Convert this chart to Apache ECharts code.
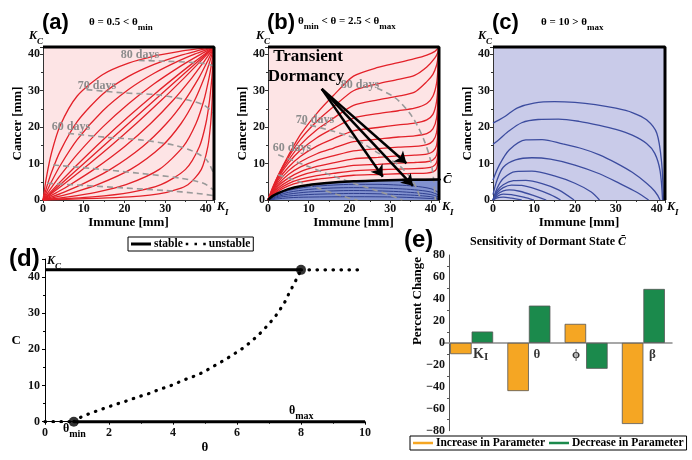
<!DOCTYPE html>
<html><head><meta charset="utf-8">
<script src="https://cdn.jsdelivr.net/npm/echarts/dist/echarts.min.js"></script>
<style>html,body{margin:0;padding:0;background:#fff}#c{width:692px;height:460px}</style>
</head><body><div id="c"></div>
<script>
// ---------------- DATA ----------------
const K_I = 42, K_C = 42;
// (a) theta = 0.5 : trajectories (Immune, Cancer)
const aCurves = [
 [[0,0],[0.84,6.21],[2.1,12.98],[4.2,20.4],[8.4,28.56],[14.7,34.47],[21,37.58],[27.3,39.5],[33.6,40.8],[37.8,41.46],[39.9,41.74],[41.16,41.9],[42,42]],
 [[0,0],[0.84,3.32],[2.1,7.6],[4.2,13.36],[8.4,21.51],[14.7,29.12],[21,33.92],[27.3,37.23],[33.6,39.64],[37.8,40.92],[39.9,41.48],[41.16,41.8],[42,42]],
 [[0,0],[0.84,2.12],[2.1,5.06],[4.2,9.41],[8.4,16.55],[14.7,24.5],[21,30.33],[27.3,34.79],[33.6,38.32],[37.8,40.28],[39.9,41.17],[41.16,41.67],[42,42]],
 [[0,0],[0.84,1.41],[2.1,3.45],[4.2,6.67],[8.4,12.53],[14.7,20.07],[21,26.44],[27.3,31.9],[33.6,36.62],[37.8,39.42],[39.9,40.74],[41.16,41.5],[42,42]],
 [[0,0],[0.84,1.0],[2.1,2.5],[4.2,4.94],[8.4,9.69],[14.7,16.49],[21,22.91],[27.3,28.99],[33.6,34.76],[37.8,38.44],[39.9,40.24],[41.16,41.3],[42,42]],
 [[0,0],[21,21],[42,42]],
 [[0,0],[1.0,0.84],[2.5,2.1],[4.94,4.2],[9.69,8.4],[16.49,14.7],[22.91,21],[28.99,27.3],[34.76,33.6],[38.44,37.8],[40.24,39.9],[41.3,41.16],[42,42]],
 [[0,0],[1.41,0.84],[3.45,2.1],[6.67,4.2],[12.53,8.4],[20.07,14.7],[26.44,21],[31.9,27.3],[36.62,33.6],[39.42,37.8],[40.74,39.9],[41.5,41.16],[42,42]],
 [[0,0],[2.12,0.84],[5.06,2.1],[9.41,4.2],[16.55,8.4],[24.5,14.7],[30.33,21],[34.79,27.3],[38.32,33.6],[40.28,37.8],[41.17,39.9],[41.67,41.16],[42,42]],
 [[0,0],[3.32,0.84],[7.6,2.1],[13.36,4.2],[21.51,8.4],[29.12,14.7],[33.92,21],[37.23,27.3],[39.64,33.6],[40.92,37.8],[41.48,39.9],[41.8,41.16],[42,42]],
 [[0,0],[6.21,0.84],[12.98,2.1],[20.4,4.2],[28.56,8.4],[34.47,14.7],[37.58,21],[39.5,27.3],[40.8,33.6],[41.46,37.8],[41.74,39.9],[41.9,41.16],[42,42]],
 [[0,0],[12.17,0.84],[21.54,2.1],[28.97,4.2],[35,8.4],[38.43,14.7],[40,21],[40.9,27.3],[41.48,33.6],[41.77,37.8],[41.89,39.9],[41.96,41.16],[42,42]],
 [[0,0],[21.2,0.84],[30.43,2.1],[35.59,4.2],[38.89,8.4],[40.5,14.7],[41.18,21],[41.55,27.3],[41.79,33.6],[41.91,37.8],[41.96,39.9],[41.98,41.16],[42,42]]
];
const aIsochrones = [
 [[23.5,38.3],[30,38.1],[36,37.8],[40,37.4],[42,36.8]],
 [[10.7,30.3],[19.8,29.4],[28,28.9],[35.3,27.5],[39.4,26.1],[41.9,23.9]],
 [[6.2,18.3],[15.7,17.2],[23.9,16.5],[32,15.1],[37,13.3],[40.2,11],[41.9,7.3]],
 [[2.5,9.6],[11.6,8.7],[23.9,7.3],[33.7,6],[39.4,4.6],[41.9,2.75]],
 [[1,4.6],[10,4],[20,3.3],[30,2.6],[38,1.8],[42,1.2]]
];
// (b) theta = 2.5
const bRed = [
 [[0,0],[1,3.1],[2.5,6.8],[5,12.2],[8,18],[12,23.8],[16,28.6],[21,34],[27,36.4],[32,37.7],[36,38.8],[39,39.8],[41,40.8],[42,42]],
 [[0,0],[2.5,6.7],[5,11.7],[8,16.7],[12,21.6],[16,25.5],[21,30],[27,31.9],[32,33.1],[36,34.2],[39,36.5],[41,39],[41.7,40.5],[42,42]],
 [[0,0],[2.5,6.4],[5,10.9],[8,15.2],[12,19.3],[16,22.4],[21,26],[27,27.5],[32,28.5],[36,29.6],[39,32.5],[40.5,34.5],[41.4,37],[41.8,39.5],[42,42]],
 [[0,0],[2.5,6.0],[5,10.1],[8,13.7],[12,17.1],[16,19.6],[21,22.5],[27,23.7],[32,24.5],[36,25.2],[39,26.5],[40.5,28.5],[41.4,32],[41.8,37],[42,42]],
 [[0,0],[2.5,5.5],[5,9.0],[8,12.0],[12,14.8],[16,16.8],[21,19],[27,19.9],[32,20.6],[36,21.1],[39,22],[40.5,23.5],[41.4,27],[41.8,33],[42,42]],
 [[0,0],[2.5,4.9],[5,8.0],[8,10.5],[12,12.7],[16,14.2],[21,16],[27,16.7],[32,17.3],[36,17.6],[39,18.2],[40.5,19.5],[41.4,22.5],[41.8,29],[42,42]],
 [[0,0],[2.5,4.3],[5,7.0],[8,9.1],[12,10.9],[16,12.1],[21,13.5],[27,14.1],[32,14.5],[36,14.7],[39,15.2],[40.5,16.2],[41.4,18.5],[41.8,25],[42,42]],
 [[0,0],[2.5,3.8],[5,6.0],[8,7.8],[12,9.2],[16,10.2],[21,11.3],[27,11.7],[32,12.1],[36,12.3],[39,12.6],[40.5,13.3],[41.4,15],[41.8,21],[42,42]],
 [[0,0],[2.5,3.3],[5,5.2],[8,6.7],[12,7.9],[16,8.6],[21,9.5],[27,9.8],[32,10.1],[36,10.3],[39,10.5],[40.5,11],[41.4,12.3],[41.8,17],[42,42]],
 [[0,0],[2.5,2.8],[5,4.5],[8,5.7],[12,6.7],[16,7.3],[21,8],[27,8.3],[32,8.5],[36,8.6],[39,8.8],[40.5,9.2],[41.4,10.3],[41.8,14],[42,42]],
 [[0,0],[2.5,2.4],[5,3.9],[8,4.9],[12,5.7],[16,6.2],[21,6.8],[27,7.0],[32,7.2],[36,7.3],[39,7.4],[40.5,7.7],[41.4,8.6],[41.8,12],[42,42]]
];
const bSeparatrix = [[0,0],[1,1.0],[2.5,1.9],[5,3.0],[8,3.8],[12,4.4],[16,4.8],[21,5.15],[27,5.35],[32,5.5],[36,5.55],[42,5.6]];
const bBlue = [
 [[0,0],[2.5,1.6],[5,2.6],[10,3.6],[16,4.1],[21,4.3],[27,4.3],[32,4.1],[36,3.8],[40,3.1],[42,2.0]],
 [[0,0],[2.5,1.3],[5,2.1],[10,2.9],[16,3.3],[21,3.4],[27,3.3],[32,3.1],[36,2.8],[40,2.2],[42,1.3]],
 [[0,0],[2.5,1.0],[5,1.6],[10,2.2],[16,2.5],[21,2.6],[27,2.5],[32,2.3],[36,2.0],[40,1.5],[42,0.8]],
 [[0,0],[2.5,0.7],[5,1.1],[10,1.5],[16,1.7],[21,1.8],[27,1.7],[32,1.5],[36,1.3],[40,0.9],[42,0.4]],
 [[0,0],[5,0.6],[10,0.8],[21,0.9],[32,0.8],[40,0.4],[42,0.2]]
];
const bIsochrones = [
 [[26.8,30.7],[31.3,28],[35.4,22.9],[38.3,16.5],[39.9,11],[40.7,5.5],[41.1,0]],
 [[8,21.2],[15,19.2],[21,17.0],[27.2,12.8],[32.1,9.6],[35.4,5.5],[37,1.8],[37.5,0]],
 [[2.5,12.4],[9.9,9.2],[15,7],[21,4.6],[26,2.8],[30,1.3],[33,0]],
 [[2.5,6.9],[8,4.9],[12.4,3.2],[17,1.5],[20,0.5],[22,0]]
];
const bCbar = 5.6;
const bCbarSpan = [33, 43.5];
const bArrowStart = [13.2, 30.5];
const bArrowEnds = [[28.2,6.4],[35.6,3.9],[34,10.1]];
// (c) theta = 10
const cCurves = [
 [[0,21.1],[1.5,22],[3,23],[6,25.3],[10,26.6],[15,27],[20,26.8],[25,26.2],[30,25.2],[34,24],[37.5,22],[40,18.3],[41.2,10],[41.6,0]],
 [[0,15.3],[1.5,16.6],[3.5,18.6],[7,21.2],[11,22.1],[16,22.2],[21,21.6],[26,20.5],[30,19.4],[34,17.8],[37.5,15.5],[39.5,12.8],[40.8,8],[41.4,0]],
 [[0,5.5],[1.5,9.5],[4,13.8],[8,16.5],[12,16.6],[17,15.4],[22,14],[26,12.4],[30,10.2],[34,7.6],[37.5,4.6],[39.5,2.4],[40.8,0]],
 [[0,1.5],[1,5.5],[2.5,9],[5.5,11],[9.5,11.6],[14,11.2],[20,9.6],[26,7.2],[31,4.5],[35,2.2],[38,0]],
 [[0,0],[1,3.2],[2.5,5.9],[5.5,7.8],[9.5,7.9],[15,6.6],[20,4.6],[24,2.2],[26,0]],
 [[0,0],[1,2.5],[2.5,4.2],[5,5.3],[8,5.4],[12,4.5],[16,2.8],[19.8,0]],
 [[0,0],[1,2],[2.5,3.4],[4.5,4.1],[7,4],[10.5,3],[14,1.5],[16.5,0]],
 [[0,0],[1,1.5],[2.5,2.5],[4,2.8],[6.5,2.4],[10,1.2],[13,0]],
 [[0,0],[1,1],[2.5,1.6],[4.5,1.5],[7.5,0.8],[10,0]],
 [[0,0],[1,0.6],[2.5,0.8],[4.5,0.5],[7,0]]
];
// (d) bifurcation
const dThetaMin = 0.9, dThetaMax = 8, dThetaEnd = 10;
const dUnstable = [[0.9,0],[1.15,1.4],[1.41,2.3],[1.69,3.2],[1.95,4.0],[2.21,4.8],[2.47,5.5],[2.73,6.3],[2.99,7.1],[3.25,7.8],[3.51,8.7],[3.77,9.5],[4.03,10.3],[4.29,11.4],[4.55,12.2],[4.81,13.1],[5.05,14.2],[5.28,15.4],[5.52,16.6],[5.76,17.9],[5.99,19.2],[6.23,20.6],[6.43,22.1],[6.64,23.7],[6.84,25.5],[7.01,27.2],[7.19,29.0],[7.35,31.1],[7.5,33.2],[7.62,35.4],[7.75,37.6],[7.88,39.8],[8,42]];
// (e) sensitivity
const eCategories = ['K_I','θ','ϕ','β'];
const eIncrease = [-10.3, -43.9, 17.3, -73.9];
const eDecrease = [10.3, 33.9, -23.6, 49.1];

// ---------------- STYLE ----------------
const SERIF = 'Liberation Serif', SANS = 'Liberation Sans';
const RED = '#e32129', GREYD = '#9a9a9a', NAVY = '#2f3f8e', CBLUE = '#3c4c9f';
const chart = echarts.init(document.getElementById('c'), null, {renderer:'canvas'});

const lbl = (extra) => Object.assign({fontFamily:SERIF, fontWeight:'bold', fontSize:12, color:'#111'}, extra||{});
function phaseX(i){ return {type:'value', gridIndex:i, min:0, max:K_I, interval:10,
  axisLine:{show:true, onZero:false, lineStyle:{color:'#333', width:1}}, axisTick:{show:true, length:3, lineStyle:{color:'#333'}},
  minorTick:{show:true, splitNumber:2, length:2, lineStyle:{color:'#333'}}, splitLine:{show:false},
  axisLabel:lbl({margin:3, showMaxLabel:false}),
  name:'Immune [mm]', nameLocation:'middle', nameGap:13, nameTextStyle:lbl({fontSize:13, color:'#000'})}; }
function phaseY(i){ return {type:'value', gridIndex:i, min:0, max:K_C, interval:10,
  axisLine:{show:true, onZero:false, lineStyle:{color:'#333', width:1}}, axisTick:{show:true, length:3, lineStyle:{color:'#333'}},
  minorTick:{show:true, splitNumber:2, length:2, lineStyle:{color:'#333'}}, splitLine:{show:false},
  axisLabel:lbl({margin:3, showMaxLabel:false}),
  name:'Cancer [mm]', nameLocation:'middle', nameGap:17, nameTextStyle:lbl({fontSize:13, color:'#000'})}; }

const series = [];
function line(gi, data, ls, extra){ series.push(Object.assign({type:'line', xAxisIndex:gi, yAxisIndex:gi, data:data, symbol:'none', silent:true, lineStyle:ls}, extra||{})); }
const frame = [[0,K_C],[K_I,K_C],[K_I,0]];

// (a)
aCurves.forEach(c => line(0, c, {color:RED, width:1.3}, {smooth:0.25, z:3}));
aIsochrones.forEach(c => line(0, c, {color:GREYD, width:1.6, type:[6,4]}, {smooth:0.3, z:4}));
line(0, frame, {color:'#000', width:3}, {z:6, clip:false});
// (b)
line(1, bSeparatrix, {width:0, opacity:0}, {smooth:0.3, z:1, areaStyle:{color:'#8292cf', opacity:1}});
bBlue.forEach(c => line(1, c, {color:NAVY, width:1}, {smooth:0.3, z:2}));
bRed.forEach(c => line(1, c, {color:RED, width:1.3}, {smooth:0.25, z:3}));
bIsochrones.forEach(c => line(1, c, {color:GREYD, width:1.6, type:[6,4]}, {smooth:0.3, z:4}));
line(1, bSeparatrix, {color:'#000', width:2.5}, {smooth:0.3, z:5});
line(1, bCbarSpan.map(x => [x, bCbar]), {color:'#000', width:1.5}, {z:5, clip:false});
line(1, frame, {color:'#000', width:3}, {z:6, clip:false});
series.push({type:'lines', coordinateSystem:'cartesian2d', xAxisIndex:1, yAxisIndex:1, silent:true, z:7,
  data: bArrowEnds.map(e => ({coords:[bArrowStart, e]})),
  symbol:['none','arrow'], symbolSize:[0,11], lineStyle:{color:'#000', width:2.5, opacity:1, curveness:0}});
// (c)
cCurves.forEach(c => line(2, c, {color:CBLUE, width:1.3}, {smooth:0.3, z:3}));
line(2, frame, {color:'#000', width:3}, {z:6, clip:false});
// (d)
const dotStyle = {color:'#000', width:3.2, type:[0.5,7.5], cap:'round'};
const blk = {color:'#000'};
line(3, [[0,K_C],[dThetaMax,K_C]], {color:'#000', width:3}, {name:'stable', z:3, itemStyle:blk});
line(3, [[dThetaMin,0],[dThetaEnd,0]], {color:'#000', width:3}, {name:'stable', z:3, clip:false, itemStyle:blk});
line(3, dUnstable, dotStyle, {name:'unstable', z:3, itemStyle:blk});
line(3, [[0,0],[dThetaMin,0]], dotStyle, {name:'unstable', z:3, itemStyle:blk});
line(3, [[dThetaMax,K_C],[dThetaEnd,K_C]], dotStyle, {name:'unstable', z:3, clip:false, itemStyle:blk});
series.push({type:'scatter', xAxisIndex:3, yAxisIndex:3, silent:true, z:5, symbolSize:10, itemStyle:blk,
  data:[[dThetaMin,0],[dThetaMax,K_C]]});
// (e)
series.push({type:'bar', name:'Increase in Parameter', xAxisIndex:4, yAxisIndex:4, data:eIncrease, barWidth:21.5, barGap:'0%',
  itemStyle:{color:'#f5a623', borderColor:'#555', borderWidth:0.8}, silent:true});
series.push({type:'bar', name:'Decrease in Parameter', xAxisIndex:4, yAxisIndex:4, data:eDecrease, barWidth:21.5, barGap:'0%',
  itemStyle:{color:'#1b8a4c', borderColor:'#555', borderWidth:0.8}, silent:true});
const eLabelFmt = {'K_I':'{w18|}{k|K}{s|I}', 'θ':'{w16|}{g|θ}', 'ϕ':'{g|ϕ}{w20|}', 'β':'{w18|}{g|β}'};
series.push({type:'scatter', xAxisIndex:4, yAxisIndex:4, silent:true, z:6, symbolSize:1, itemStyle:{color:'rgba(0,0,0,0)'},
  data:eCategories.map(() => 0),
  label:{show:true, position:'bottom', distance:3, color:'#000', formatter:p => eLabelFmt[p.name],
    rich:{k:{fontFamily:SERIF, fontWeight:'bold', fontSize:14, color:'#000', lineHeight:16, verticalAlign:'middle'},
          s:{fontFamily:SERIF, fontWeight:'bold', fontSize:11, color:'#000', verticalAlign:'bottom'},
          g:{fontFamily:SERIF, fontWeight:'bold', fontSize:13, color:'#000', lineHeight:16},
          w18:{width:18}, w16:{width:16}, w20:{width:20}}}});

const subR = (size, fill) => ({
  t:{fontFamily:SERIF, fontWeight:'bold', fontSize:size, fill:fill, lineHeight:size+9, verticalAlign:'middle'},
  s:{fontFamily:SERIF, fontWeight:'bold', fontSize:size-2, fill:fill, verticalAlign:'bottom'},
  k:{fontFamily:SERIF, fontWeight:'bold', fontStyle:'italic', fontSize:size, fill:fill, lineHeight:size+9, verticalAlign:'middle'},
  ks:{fontFamily:SERIF, fontWeight:'bold', fontStyle:'italic', fontSize:size-3, fill:fill, verticalAlign:'bottom'}
});
function txt(x, y, text, opts){ return Object.assign({type:'text', x:x, y:y, silent:true, z:100,
  style:Object.assign({text:text, fill:'#000', align:'left', verticalAlign:'middle', font:'bold 12px '+SERIF}, opts||{})}); }
const panelLbl = (x,y,t,s) => txt(x, y, t, {font:'bold '+(s||22)+'px '+SANS});
const graphic = [
  panelLbl(42,23,'(a)'), panelLbl(267,23,'(b)'), panelLbl(492,23,'(c)'),
  txt(89,22,'{t|θ = 0.5 < θ}{s|min}',{rich:subR(11,'#000')}),
  txt(298,21,'{t|θ}{s|min}{t| < θ = 2.5 < θ}{s|max}',{rich:subR(11,'#000')}),
  txt(541,22,'{t|θ = 10 > θ}{s|max}',{rich:subR(11,'#000')}),
  txt(29,36,'{k|K}{ks|C}',{rich:subR(12,'#000')}),
  txt(256,36,'{k|K}{ks|C}',{rich:subR(12,'#000')}),
  txt(478,36,'{k|K}{ks|C}',{rich:subR(12,'#000')}),
  txt(217,207,'{k|K}{ks|I}',{rich:subR(12,'#000')}),
  txt(442,207,'{k|K}{ks|I}',{rich:subR(12,'#000')}),
  txt(667,207,'{k|K}{ks|I}',{rich:subR(12,'#000')}),
  txt(140,55,'80 days',{fill:'#8c8c8c', align:'center'}),
  txt(97,86,'70 days',{fill:'#8c8c8c', align:'center'}),
  txt(71,127,'60 days',{fill:'#8c8c8c', align:'center'}),
  txt(360,85,'80 days',{fill:'#8c8c8c', align:'center'}),
  txt(315,120,'70 days',{fill:'#8c8c8c', align:'center'}),
  txt(292,148,'60 days',{fill:'#8c8c8c', align:'center'}),
  txt(308,57,'Transient',{font:'bold 17px '+SERIF, align:'center'}),
  txt(306,77,'Dormancy',{font:'bold 17px '+SERIF, align:'center'}),
  txt(443,180,'C\u0304',{font:'italic bold 13px '+SERIF}),
  panelLbl(9,259,'(d)',24),
  txt(47,261,'{k|K}{ks|C}',{rich:subR(12,'#000')}),
  txt(63,429,'{t|θ}{s|min}',{rich:subR(12,'#000')}),
  txt(289,411,'{t|θ}{s|max}',{rich:subR(12,'#000')}),
  panelLbl(404,240,'(e)',24),
  txt(548,242,'Sensitivity of Dormant State {c|C\u0304}',{align:'center', rich:{c:{fontFamily:SERIF, fontWeight:'bold', fontStyle:'italic', fontSize:12}}}),
  {type:'text', x:418, y:301, rotation:Math.PI/2, silent:true, z:100,
   style:{text:'Percent Change', fill:'#000', align:'center', verticalAlign:'middle', font:'bold 13px '+SERIF}}
];

const legendText = (fs) => ({fontFamily:SERIF, fontWeight:'bold', fontSize:fs, color:'#000', padding:[0,0,0,-2]});
const option = {
  animation:false,
  backgroundColor:'#fff',
  grid:[
    {left:43, top:47, width:171, height:153, show:true, backgroundColor:'#fde4e5', borderWidth:0},
    {left:268, top:47, width:171, height:153, show:true, backgroundColor:'#fde4e5', borderWidth:0},
    {left:493, top:47, width:172, height:153, show:true, backgroundColor:'#c9cbe9', borderWidth:0},
    {left:45, top:259, width:320, height:162.7},
    {left:443, top:255, width:229, height:175.7}
  ],
  xAxis:[ phaseX(0), phaseX(1), phaseX(2),
    {type:'value', gridIndex:3, min:0, max:dThetaEnd, interval:2,
     axisLine:{show:true, onZero:false, lineStyle:{color:'#000'}}, axisTick:{length:3, lineStyle:{color:'#000'}},
     minorTick:{show:true, splitNumber:2, length:2, lineStyle:{color:'#000'}}, splitLine:{show:false},
     axisLabel:lbl({margin:5}), name:'θ', nameLocation:'middle', nameGap:19, nameTextStyle:lbl({fontSize:13, color:'#000'})},
    {type:'category', gridIndex:4, data:eCategories,
     axisLine:{show:true, onZero:true, lineStyle:{color:'#8a8a8a', width:1.5}}, axisTick:{show:false},
     axisLabel:{show:false}}
  ],
  yAxis:[ phaseY(0), phaseY(1), phaseY(2),
    {type:'value', gridIndex:3, min:0, max:45, interval:10,
     axisLine:{show:true, onZero:false, lineStyle:{color:'#000'}}, axisTick:{length:3, lineStyle:{color:'#000'}},
     minorTick:{show:true, splitNumber:2, length:2, lineStyle:{color:'#000'}}, splitLine:{show:false},
     axisLabel:lbl({margin:5, showMaxLabel:false}), name:'C', nameLocation:'middle', nameRotate:0, nameGap:24, nameTextStyle:lbl({fontSize:13, color:'#000'})},
    {type:'value', gridIndex:4, min:-80, max:80, interval:20, offset:-6,
     axisLine:{show:true, onZero:false, lineStyle:{color:'#555'}}, axisTick:{length:3, lineStyle:{color:'#555'}},
     minorTick:{show:true, splitNumber:2, length:2, lineStyle:{color:'#555'}}, splitLine:{show:false},
     axisLabel:lbl({margin:4, formatter:v => v < 0 ? '\u2212' + (-v) : String(v)})}
  ],
  legend:[
    {data:[{name:'stable', icon:'rect', itemStyle:{color:'#000'}},
           {name:'unstable', icon:'path://M0,0h2v2h-2z M7,0h2v2h-2z M14,0h2v2h-2z', itemStyle:{color:'#000'}}],
     left:128, top:237, itemWidth:20, itemHeight:3, itemGap:3, padding:[1,3,1,3],
     borderColor:'#000', borderWidth:1, textStyle:legendText(11.5), selectedMode:false},
    {data:[{name:'Increase in Parameter', icon:'rect'},{name:'Decrease in Parameter', icon:'rect'}], left:410, top:436,
     orient:'horizontal', width:300, itemWidth:20, itemHeight:2.5, itemGap:4, padding:[1,3,1,3], borderColor:'#000', borderWidth:1, itemStyle:{borderWidth:0},
     textStyle:legendText(11.5), selectedMode:false}
  ],
  graphic:graphic,
  series:series
};
chart.setOption(option);
</script></body></html>
